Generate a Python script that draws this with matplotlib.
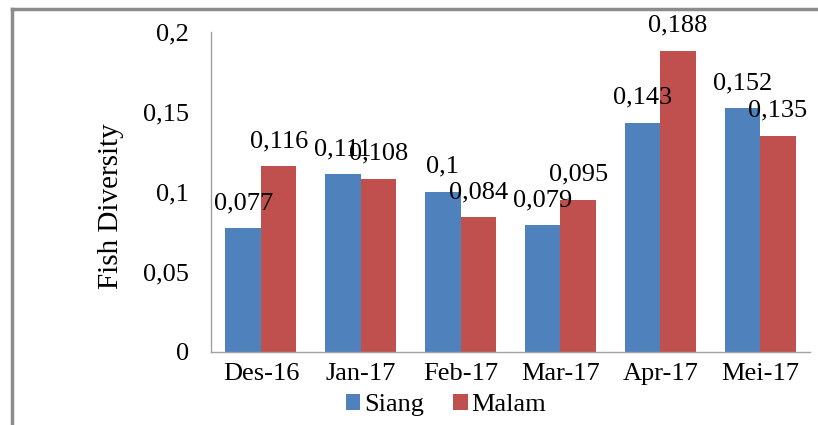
import matplotlib
matplotlib.use("Agg")
import matplotlib.pyplot as plt
from matplotlib.lines import Line2D
import numpy as np

months = ["Des-16", "Jan-17", "Feb-17", "Mar-17", "Apr-17", "Mei-17"]
siang = [0.077, 0.111, 0.1, 0.079, 0.143, 0.152]
malam = [0.116, 0.108, 0.084, 0.095, 0.188, 0.135]
yticks = [0, 0.05, 0.1, 0.15, 0.2]
ytick_labels = ["0", "0,05", "0,1", "0,15", "0,2"]

blue = "#4F81BD"
red = "#C0504D"
fs = 19

plt.rcParams["font.family"] = ["Liberation Serif", "DejaVu Serif"]

W, H = 818, 425
fig = plt.figure(figsize=(W / 100, H / 100), dpi=100)
ax = fig.add_axes([211 / W, 1 - 351.5 / H, 599 / W, 320 / H])

x = np.arange(len(months))
bw = 0.356
b1 = ax.bar(x - bw / 2, siang, bw, color=blue, label="Siang")
b2 = ax.bar(x + bw / 2, malam, bw, color=red, label="Malam")

def fmt(v):
    return f"{v:g}".replace(".", ",")

for bars, vals in ((b1, siang), (b2, malam)):
    for r, v in zip(bars, vals):
        ax.text(r.get_x() + r.get_width() / 2, v + 0.0118, fmt(v),
                ha="center", va="baseline", fontsize=fs)

ax.set_xlim(-0.5, len(months) - 0.5)
ax.set_ylim(0, 0.2)
ax.set_yticks(yticks)
ax.set_yticklabels(ytick_labels, fontsize=fs)
ax.set_xticks(x)
ax.set_xticklabels(months, fontsize=fs)
ax.tick_params(axis="both", length=0)
ax.tick_params(axis="x", pad=8)
ax.tick_params(axis="y", pad=16)
ax.set_ylabel("Fish Diversity", fontsize=21)
ax.yaxis.set_label_coords(-0.145, 0.455)

for s in ("top", "right"):
    ax.spines[s].set_visible(False)
for s in ("left", "bottom"):
    ax.spines[s].set_color("#A0A0A0")
    ax.spines[s].set_linewidth(1)

fig.legend(handles=[b1, b2], loc="center", bbox_to_anchor=(446 / W, 1 - 405 / H),
           ncol=2, frameon=False, fontsize=fs, handlelength=0.55, handleheight=0.55,
           handletextpad=0.15, columnspacing=1.1, borderpad=0)

# outer chart frame
fig.add_artist(Line2D([12 / W, 1], [1 - 9 / H, 1 - 9 / H], color="#8C8C8C", lw=2.5,
                      transform=fig.transFigure))
fig.add_artist(Line2D([12 / W, 12 / W], [0, 1 - 9 / H], color="#8C8C8C", lw=2.5,
                      transform=fig.transFigure))

fig.savefig("out.png", dpi=100)
